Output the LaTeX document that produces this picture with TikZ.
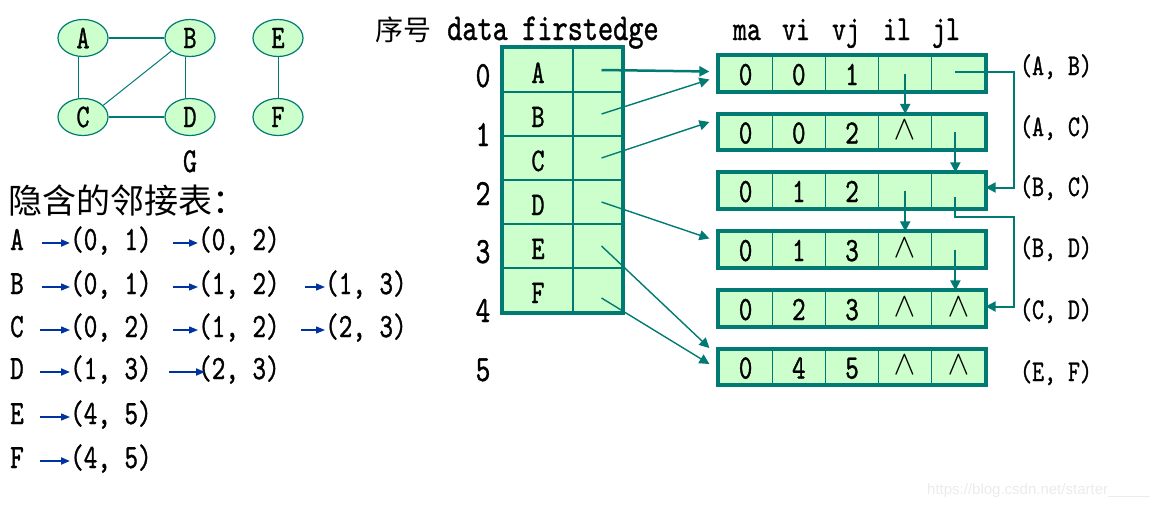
\documentclass[tikz,border=0pt]{standalone}
\usepackage{fontspec}
\usepackage{tikz}
\usetikzlibrary{arrows.meta}
\usetikzlibrary{shapes.geometric}
\newfontfamily\lat{lmmono10-regular.otf}[FakeStretch=0.76,FakeBold=1]
\newfontfamily\cjk{Noto Sans CJK SC}
\newfontfamily\mth{latinmodern-math.otf}
\newfontfamily\wmk{Liberation Sans}
\newcommand{\fsz}[1]{\fontsize{#1}{#1}\selectfont}
\newcommand{\nul}{\raisebox{4pt}{\mth\fsz{34}∧}}
\definecolor{edgeteal}{HTML}{007A72}
\definecolor{cellgreen}{HTML}{CCFFCC}
\definecolor{listblue}{HTML}{0033A0}

\begin{document}
\begin{tikzpicture}[x=1pt,y=-1pt,
  vert/.style={ellipse,draw=edgeteal,fill=cellgreen,line width=1.2pt,minimum width=50pt,minimum height=37pt,inner sep=0pt,font=\lat\fsz{33}},
  gedge/.style={draw=edgeteal,line width=1pt},
  tcell/.style={draw=edgeteal,fill=cellgreen,line width=1.5pt,minimum height=44pt,inner sep=0pt,text height=26pt,text depth=0pt,font=\lat\fsz{33}},
  ecell/.style={draw=edgeteal,fill=cellgreen,line width=1.2pt,minimum width=53.2pt,minimum height=35pt,inner sep=0pt,text height=23pt,text depth=0pt,font=\lat\fsz{34}},
  frame/.style={draw=edgeteal,line width=4pt},
  item/.style={inner sep=0pt,text height=14pt,text depth=0pt,font=\lat\fsz{34}},
  plain/.style={inner sep=0pt,font=\lat\fsz{#1}},
  ptr/.style={edgeteal,line width=1.4pt,-{Triangle[length=10pt,width=10pt]}},
  adj/.style={listblue,line width=1.3pt,-{Triangle[length=9pt,width=7pt]}}]
\useasboundingbox (0,0) rectangle (1160,506);

% graph G
\node[vert] (A) at (83,38) {A};
\node[vert] (B) at (190,38) {B};
\node[vert] (C) at (83,117) {C};
\node[vert] (D) at (190,117) {D};
\node[vert] (E) at (278,38) {E};
\node[vert] (F) at (278,117) {F};
\draw[gedge,line width=2.5pt] (A) -- (B);
\draw[gedge,line width=2.5pt] (C) -- (D);
\draw[gedge] ([xshift=-5pt]A.south) -- ([xshift=-5pt]C.north);
\draw[gedge] ([xshift=-5pt]B.south) -- ([xshift=-5pt]D.north);
\draw[gedge] (C.30) -- (B.215);
\draw[gedge] (E) -- (F);
\node[plain=35,anchor=base] (G) at (190,172) {G};

% implicit adjacency lists
\node[inner sep=0pt,anchor=west,font=\cjk\fsz{34}] (title) at (8,201) {隐含的邻接表：};
\node[item,anchor=west] (lA) at (10,243) {A};
\node[item,anchor=west] (lA1) at (70,243) {(0, 1)};
\node[item,anchor=west] (lA2) at (198,243) {(0, 2)};
\node[item,anchor=west] (lB) at (10,287) {B};
\node[item,anchor=west] (lB1) at (70,287) {(0, 1)};
\node[item,anchor=west] (lB2) at (198,287) {(1, 2)};
\node[item,anchor=west] (lB3) at (325,287) {(1, 3)};
\node[item,anchor=west] (lC) at (10,330) {C};
\node[item,anchor=west] (lC1) at (70,330) {(0, 2)};
\node[item,anchor=west] (lC2) at (198,330) {(1, 2)};
\node[item,anchor=west] (lC3) at (325,330) {(2, 3)};
\node[item,anchor=west] (lD) at (10,372) {D};
\node[item,anchor=west] (lD1) at (70,372) {(1, 3)};
\node[item,anchor=west] (lD2) at (198,372) {(2, 3)};
\node[item,anchor=west] (lE) at (10,417) {E};
\node[item,anchor=west] (lE1) at (70,417) {(4, 5)};
\node[item,anchor=west] (lF) at (10,461) {F};
\node[item,anchor=west] (lF1) at (70,461) {(4, 5)};
\draw[adj,line width=2pt,shorten <=18pt] (lA) -- (lA1);
\draw[adj,line width=2pt,shorten <=21pt] (lA1) -- (lA2);
\draw[adj,shorten <=18pt] (lB) -- (lB1);
\draw[adj,shorten <=21pt] (lB1) -- (lB2);
\draw[adj,shorten <=25pt] (lB2) -- (lB3);
\draw[adj,shorten <=16pt] (lC) -- (lC1);
\draw[adj,shorten <=21pt] (lC1) -- (lC2);
\draw[adj,shorten <=21pt] (lC2) -- (lC3);
\draw[adj,line width=2pt,shorten <=16pt] (lD) -- (lD1);
\draw[adj,line width=2pt,shorten <=17pt,shorten >=-7pt] (lD1) -- (lD2);
\draw[adj,shorten <=16pt] (lE) -- (lE1);
\draw[adj,line width=2pt,shorten <=16pt] (lF) -- (lF1);

% vertex table
\node[inner sep=0pt,anchor=base west,font=\cjk\fsz{28}] (hnum) at (375,40) {序号};
\node[plain=38,anchor=base west] (hdata) at (447,40) {data};
\node[plain=38,anchor=base west] (hfirst) at (522,40) {firstedge};
\node[plain=37,anchor=base] (n0) at (483,87) {0};
\node[plain=37,anchor=base] (n1) at (483,146) {1};
\node[plain=37,anchor=base] (n2) at (483,205) {2};
\node[plain=37,anchor=base] (n3) at (483,263) {3};
\node[plain=37,anchor=base] (n4) at (483,322) {4};
\node[plain=37,anchor=base] (n5) at (483,381) {5};
\node[tcell,minimum width=70pt] (vA) at (538,70) {A};
\node[tcell,minimum width=49pt] (pA) at (597.5,70) {};
\node[tcell,minimum width=70pt] (vB) at (538,114) {B};
\node[tcell,minimum width=49pt] (pB) at (597.5,114) {};
\node[tcell,minimum width=70pt] (vC) at (538,158) {C};
\node[tcell,minimum width=49pt] (pC) at (597.5,158) {};
\node[tcell,minimum width=70pt] (vD) at (538,202) {D};
\node[tcell,minimum width=49pt] (pD) at (597.5,202) {};
\node[tcell,minimum width=70pt] (vE) at (538,246) {E};
\node[tcell,minimum width=49pt] (pE) at (597.5,246) {};
\node[tcell,minimum width=70pt] (vF) at (538,290) {F};
\node[tcell,minimum width=49pt] (pF) at (597.5,290) {};
\draw[frame] (vA.north west) rectangle (pF.south east);

% edge nodes
\node[plain=35,anchor=base] (hma) at (747,40) {ma};
\node[plain=35,anchor=base] (hvi) at (796,40) {vi};
\node[plain=35,anchor=base] (hvj) at (846,40) {vj};
\node[plain=35,anchor=base] (hil) at (897,40) {il};
\node[plain=35,anchor=base] (hjl) at (946,40) {jl};

\node[ecell] (e0ma) at (745.6,73.5) {0};
\node[ecell] (e0vi) at (798.8,73.5) {0};
\node[ecell] (e0vj) at (852,73.5) {1};
\node[ecell] (e0il) at (905.2,73.5) {};
\node[ecell] (e0jl) at (958.4,73.5) {};
\draw[frame] (e0ma.north west) rectangle (e0jl.south east);

\node[ecell] (e1ma) at (745.6,132) {0};
\node[ecell] (e1vi) at (798.8,132) {0};
\node[ecell] (e1vj) at (852,132) {2};
\node[ecell] (e1il) at (905.2,132) {\nul};
\node[ecell] (e1jl) at (958.4,132) {};
\draw[frame] (e1ma.north west) rectangle (e1jl.south east);

\node[ecell] (e2ma) at (745.6,190.5) {0};
\node[ecell] (e2vi) at (798.8,190.5) {1};
\node[ecell] (e2vj) at (852,190.5) {2};
\node[ecell] (e2il) at (905.2,190.5) {};
\node[ecell] (e2jl) at (958.4,190.5) {};
\draw[frame] (e2ma.north west) rectangle (e2jl.south east);

\node[ecell] (e3ma) at (745.6,249.5) {0};
\node[ecell] (e3vi) at (798.8,249.5) {1};
\node[ecell] (e3vj) at (852,249.5) {3};
\node[ecell] (e3il) at (905.2,249.5) {\nul};
\node[ecell] (e3jl) at (958.4,249.5) {};
\draw[frame] (e3ma.north west) rectangle (e3jl.south east);

\node[ecell] (e4ma) at (745.6,308.5) {0};
\node[ecell] (e4vi) at (798.8,308.5) {2};
\node[ecell] (e4vj) at (852,308.5) {3};
\node[ecell] (e4il) at (905.2,308.5) {\nul};
\node[ecell] (e4jl) at (958.4,308.5) {\nul};
\draw[frame] (e4ma.north west) rectangle (e4jl.south east);

\node[ecell] (e5ma) at (745.6,367) {0};
\node[ecell] (e5vi) at (798.8,367) {4};
\node[ecell] (e5vj) at (852,367) {5};
\node[ecell] (e5il) at (905.2,367) {\nul};
\node[ecell] (e5jl) at (958.4,367) {\nul};
\draw[frame] (e5ma.north west) rectangle (e5jl.south east);

\node[plain=30,anchor=base] (kAB) at (1056,75) {(A, B)};
\node[plain=30,anchor=base] (kAC) at (1056,136) {(A, C)};
\node[plain=30,anchor=base] (kBC) at (1056,196) {(B, C)};
\node[plain=30,anchor=base] (kBD) at (1056,257) {(B, D)};
\node[plain=30,anchor=base] (kCD) at (1056,319) {(C, D)};
\node[plain=30,anchor=base] (kEF) at (1056,381) {(E, F)};

% firstedge pointers
\draw[ptr,line width=2.5pt] ([xshift=4pt]pA.center) -- ([yshift=2pt,xshift=-9pt]e0ma.west);
\draw[ptr] ([xshift=4pt]pB.center) -- ([yshift=-6pt,xshift=-9pt]e0ma.west);
\draw[ptr] ([xshift=4pt]pC.center) -- ([yshift=10pt,xshift=-9pt]e1ma.west);
\draw[ptr] ([xshift=4pt]pD.center) -- ([yshift=11pt,xshift=-9pt]e3ma.west);
\draw[ptr] ([xshift=4pt]pE.center) -- ([yshift=19pt,xshift=-9pt]e5ma.west);
\draw[ptr] ([xshift=4pt,yshift=-8pt]pF.center) -- ([yshift=3pt,xshift=-9pt]e5ma.west);

% il / jl links
\coordinate (bend) at (1014,0);
\coordinate (jog) at (1014,217);
\draw[ptr,line width=2pt] (e0il.center) -- (e1il.north);
\draw[ptr,line width=2pt] ([xshift=-3pt]e1jl.center) -- ([xshift=-3pt]e2jl.north);
\draw[ptr,line width=2pt] (e2il.center) -- (e3il.north);
\draw[ptr,line width=2pt] ([xshift=-3pt]e3jl.center) -- ([xshift=-3pt]e4jl.north);
\draw[ptr,line width=2pt] ([xshift=-3pt,yshift=2pt]e0jl.center) -- ([yshift=2pt]e0jl.center -| bend) |- ([yshift=3pt]e2jl.east);
\draw[ptr,line width=2pt] ([xshift=-3pt,yshift=-6pt]e2jl.center) |- (jog) |- ([yshift=2pt]e4jl.east);

\node[inner sep=0pt,anchor=base east,text=black!8,font=\wmk\fsz{15}] (mark) at (1150,494) {https://blog.csdn.net/starter\_\_\_\_\_};
\end{tikzpicture}
\end{document}
